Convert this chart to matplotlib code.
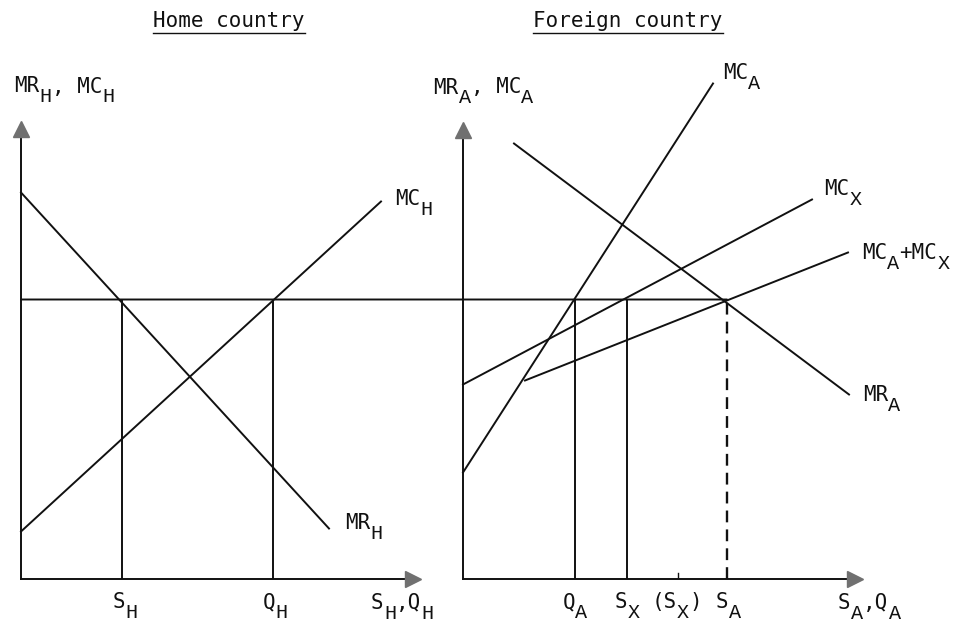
import matplotlib
matplotlib.use("Agg")
import matplotlib.pyplot as plt
from matplotlib.patches import ConnectionPatch
from matplotlib.lines import Line2D

# common price level (horizontal line through both panels)
price = 27.9

# home country curves: (x0, y0, x1, y1)
mr_home = [0.0, 38.6, 30.8, 5.0]
mc_home = [0.0, 4.7, 36.0, 37.7]
s_home = 10.1
q_home = 25.2

# foreign country curves
mr_for = [5.1, 43.5, 38.6, 18.4]
mc_a = [0.0, 10.6, 25.0, 49.5]
mc_x = [0.0, 19.4, 34.9, 37.9]
mc_sum = [6.2, 19.8, 38.5, 32.6]
q_a = 11.2
s_x = 16.4
s_x_tick = 21.5
s_a = 26.4

x_max = 39.9
y_max_home = 45.7
y_max_for = 45.6

lw = 1.4
ink = '#111111'
arrow_grey = '#707070'
main_font = 'DejaVu Sans Mono'
sub_font = 'Liberation Mono'
fs = 15
fs_sub = 14.5

fig = plt.figure(figsize=(9.56, 6.27), dpi=100)
ax_h = fig.add_axes([21 / 956, 48.5 / 627, 400 / 956, 460 / 627])
ax_f = fig.add_axes([463 / 956, 48.5 / 627, 400 / 956, 460 / 627])

for ax, ymax in [(ax_h, y_max_home), (ax_f, y_max_for)]:
    ax.set_xlim(0, 40)
    ax.set_ylim(0, 46)
    ax.axis('off')
    # axes with grey arrow heads
    ax.plot([0, 0], [0, ymax - 1.2], color=ink, lw=lw, clip_on=False)
    ax.plot([0, x_max - 1.2], [0, 0], color=ink, lw=lw, clip_on=False)
    ax.plot(0, ymax - 0.7, marker='^', ms=11, color=arrow_grey, clip_on=False)
    ax.plot(x_max - 0.7, 0, marker='>', ms=11, color=arrow_grey, clip_on=False)


def seg(ax, s, **kw):
    ax.plot([s[0], s[2]], [s[1], s[3]], color=ink, lw=lw, clip_on=False, **kw)


def label(ax, x, y, pieces, dx=0, dy=0, ha='left'):
    # pieces: list of (text, is_subscript); chained so subscripts sit low like the typed original
    first = ax.annotate(pieces[0][0], xy=(x, y), xytext=(dx, dy), textcoords='offset points',
                        ha=ha, va='top', fontsize=fs, family=main_font, color=ink,
                        annotation_clip=False)
    prev, prev_main = first, first
    for text, sub in pieces[1:]:
        if sub:
            a = ax.annotate(text, xy=(1, 0), xycoords=prev, xytext=(0.2, 6.5),
                            textcoords='offset points', ha='left', va='top',
                            fontsize=fs_sub, family=sub_font, color=ink, annotation_clip=False)
        else:
            a = ax.annotate(text, xy=(1, 0), xycoords=(prev, prev_main), ha='left', va='bottom',
                            fontsize=fs, family=main_font, color=ink, annotation_clip=False)
            prev_main = a
        prev = a


def end_label(ax, s, pieces, dx, dy):
    label(ax, s[2], s[3], pieces, dx, dy)


def tick_label(ax, x, pieces, dx=0.5):
    label(ax, x, 0, pieces, dx, -10, ha='right')


# home panel
seg(ax_h, mr_home)
seg(ax_h, mc_home)
ax_h.plot([s_home, s_home], [0, price], color=ink, lw=lw)
ax_h.plot([q_home, q_home], [0, price], color=ink, lw=lw)
end_label(ax_h, mc_home, [('MC', 0), ('H', 1)], 10, 9)
end_label(ax_h, mr_home, [('MR', 0), ('H', 1)], 11.5, 11)
tick_label(ax_h, s_home, [('S', 0), ('H', 1)], 2)
tick_label(ax_h, q_home, [('Q', 0), ('H', 1)], 1.5)
label(ax_h, 35.0, -1.45, [('S', 0), ('H', 1), (',Q', 0), ('H', 1)])
label(ax_h, -0.7, 50.2, [('MR', 0), ('H', 1), (', MC', 0), ('H', 1)])

# foreign panel
seg(ax_f, mr_for)
seg(ax_f, mc_a)
seg(ax_f, mc_x)
seg(ax_f, mc_sum)
ax_f.plot([q_a, q_a], [0, price], color=ink, lw=lw)
ax_f.plot([s_x, s_x], [0, price], color=ink, lw=lw)
ax_f.plot([s_a, s_a], [0, price], color=ink, lw=1.7, ls=(0, (5, 3)))
ax_f.plot([s_x_tick, s_x_tick], [0, 0.6], color=ink, lw=1.0)
end_label(ax_f, mc_a, [('MC', 0), ('A', 1)], 7, 15)
end_label(ax_f, mc_x, [('MC', 0), ('X', 1)], 9, 15)
end_label(ax_f, mc_sum, [('MC', 0), ('A', 1), ('+MC', 0), ('X', 1)], 10, 6.5)
end_label(ax_f, mr_for, [('MR', 0), ('A', 1)], 10, 6.5)
tick_label(ax_f, q_a, [('Q', 0), ('A', 1)], 0)
tick_label(ax_f, s_x, [('S', 0), ('X', 1)], 0.5)
tick_label(ax_f, s_x_tick, [('(S', 0), ('X', 1), (')', 0)], -1)
tick_label(ax_f, s_a, [('S', 0), ('A', 1)], 1)
label(ax_f, 37.5, -1.45, [('S', 0), ('A', 1), (',Q', 0), ('A', 1)])
label(ax_f, -3.0, 50.1, [('MR', 0), ('A', 1), (', MC', 0), ('A', 1)])

# price line running from the home axis to the foreign equilibrium
con = ConnectionPatch(xyA=(0, price), coordsA=ax_h.transData,
                      xyB=(s_a, price), coordsB=ax_f.transData,
                      color=ink, lw=lw)
fig.add_artist(con)

# underlined panel titles
titles = []
titles.append(fig.text(229 / 956, 1 - 27 / 627, 'Home country', ha='center', va='baseline',
                       fontsize=15, family=main_font, color=ink))
titles.append(fig.text(628 / 956, 1 - 27 / 627, 'Foreign country', ha='center', va='baseline',
                       fontsize=15, family=main_font, color=ink))
fig.canvas.draw()
inv = fig.transFigure.inverted()
for t in titles:
    bb = t.get_window_extent()
    (x0, _), (x1, _) = inv.transform([(bb.x0, 0), (bb.x1, 0)])
    yl = 1 - 32.5 / 627
    fig.add_artist(Line2D([x0, x1], [yl, yl], color=ink, lw=1.0, transform=fig.transFigure))

fig.savefig('out.png', dpi=100)
